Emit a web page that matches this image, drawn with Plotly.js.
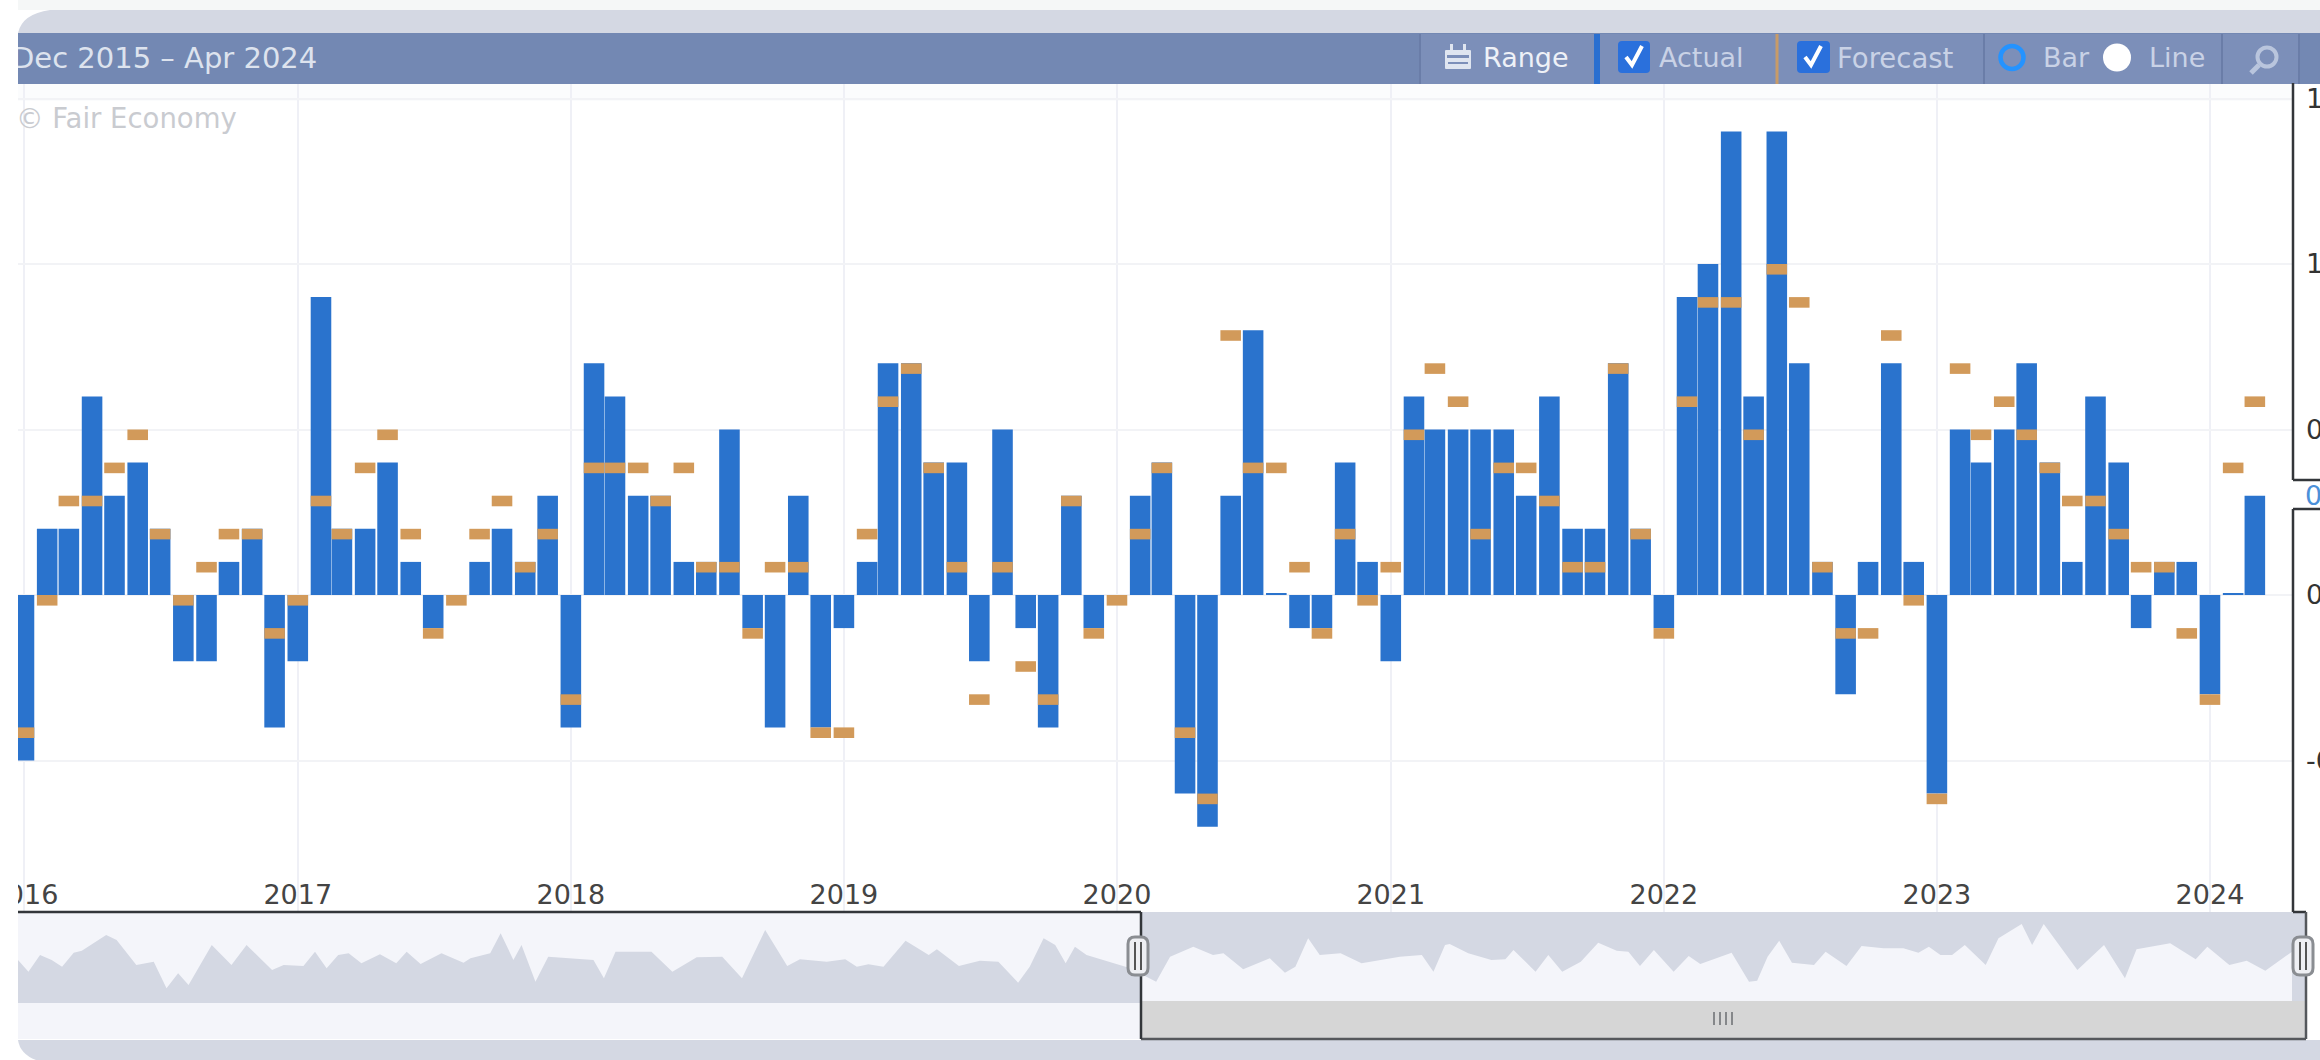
<!DOCTYPE html>
<html>
<head>
<meta charset="utf-8">
<script src="https://cdn.plot.ly/plotly-3.0.1.min.js"></script>
<style>
html,body{margin:0;padding:0;background:#fff;overflow:hidden}
#chart{position:absolute;left:0;top:0;width:2320px;height:1060px}
#edge{position:absolute;left:0;top:0;width:18px;height:1060px;background:#fff;z-index:5}
</style>
</head>
<body>
<div id="chart"></div>
<div id="edge"></div>
<script>
// Monthly values, first bar = start month
const startYear = 2016;
const actual = [
 -0.5,0.2,0.2,0.6,0.3,0.4,0.2,-0.2,-0.2,0.1,0.2,-0.4,
 -0.2,0.9,0.2,0.2,0.4,0.1,-0.1,0,0.1,0.2,0.1,0.3,
 -0.4,0.7,0.6,0.3,0.3,0.1,0.1,0.5,-0.1,-0.4,0.3,-0.4,
 -0.1,0.1,0.7,0.7,0.4,0.4,-0.2,0.5,-0.1,-0.4,0.3,-0.1,
 0,0.3,0.4,-0.6,-0.7,0.3,0.8,0.005,-0.1,-0.1,0.4,0.1,
 -0.2,0.6,0.5,0.5,0.5,0.5,0.3,0.6,0.2,0.2,0.7,0.2,
 -0.1,0.9,1.0,1.4,0.6,1.4,0.7,0.1,-0.3,0.1,0.7,0.1,
 -0.6,0.5,0.4,0.5,0.7,0.4,0.1,0.6,0.4,-0.1,0.1,0.1,
 -0.3,0.005,0.3];
const forecast = [
 -0.4,0,0.3,0.3,0.4,0.5,0.2,0,0.1,0.2,0.2,-0.1,
 0,0.3,0.2,0.4,0.5,0.2,-0.1,0,0.2,0.3,0.1,0.2,
 -0.3,0.4,0.4,0.4,0.3,0.4,0.1,0.1,-0.1,0.1,0.1,-0.4,
 -0.4,0.2,0.6,0.7,0.4,0.1,-0.3,0.1,-0.2,-0.3,0.3,-0.1,
 0,0.2,0.4,-0.4,-0.6,0.8,0.4,0.4,0.1,-0.1,0.2,0,
 0.1,0.5,0.7,0.6,0.2,0.4,0.4,0.3,0.1,0.1,0.7,0.2,
 -0.1,0.6,0.9,0.9,0.5,1.0,0.9,0.1,-0.1,-0.1,0.8,0,
 -0.6,0.7,0.5,0.6,0.5,0.4,0.3,0.3,0.2,0.1,0.1,-0.1,
 -0.3,0.4,0.6];
const yearTicks = [2016,2017,2018,2019,2020,2021,2022,2023,2024];
const yTickVals = [-0.5,0,0.5,1,1.5];
const yTickText = ['-0.5','0.0','0.5','1.0','1.5'];

// Navigator overview (month position, level)
const navMonth = [0,0.9,1.9,2.9,3.8,4.8,5.5,7.6,8.5,10.2,11.7,12.8,13.8,14.7,16.7,18.4,19.7,20.7,21.9,22.9,24.6,25.6,26.6,27.6,28.5,29.6,31.2,32.6,33.5,34.7,36.5,38.4,39,40.7,41.6,42.7,43.4,44.6,45.7,49.6,50.5,51.5,54.6,56.4,58.5,60.7,62.4,64.4,66.3,67.4,69.7,71.3,72.3,73.3,74.6,76.5,78.5,79.2,81.1,82.9,84.5,86.2,87.2,88.4,89.4,90.3,91.1,92.1,95.6,96.8,98.1,99.3,101.3,103,103.9,105.6,107.9,109.2,110.1,111.2,112.2,114,115.8,119.1,121,122,123,123.4,125,127,128.2,128.9,130.8,131.9,133.1,134.7,136.2,137.8,138.8,139.8,141,142.7,144,145,147.7,149.2,149.9,150.8,151.8,152.9,154.8,155.8,157.6,158.9,160.8,162.5,163.8,164.7,165.7,166.7,167.8,169.6,170.7,172.7,173.6,174.6,177.5,179.8,181.6,182.6,185.5,187.7,188.7,190.6,192.1,193.7,196];
const navLevel = [42,30.3,47,42,35.3,49.3,51.3,67,62,37,40.3,13.7,28.7,17,57,37,57,45.3,32,37,36,50.3,33.7,47,48.7,38.7,47.7,38.7,50.3,38,48.7,39.3,43.7,48.7,68.7,42,57,20.3,45.3,42,23.7,50.3,50.3,30.3,44.7,45.3,23.7,72,36,42.7,40.3,42.7,35.3,37.7,35.3,61.3,47,52.7,36,41.3,40.3,19.3,35.3,63.7,57,38.7,55.3,47,34.7,28,20.3,45.3,55.3,47,48.7,32.7,43.7,29.3,35.3,63.7,47,48.7,38.7,45.3,47,30.3,57,58,48.7,42,42.7,52,30.3,47,30.3,40.3,59.3,51.3,50.3,36,52,30.3,46,38,49.3,20.3,21.3,45.3,61.3,39.3,37,50.3,36,56,53.7,53.7,49.3,55.3,47,47,57,37,63.7,78,57,78,32,57,23.7,52.7,58.7,42.7,55.3,37,41.3,31.3,50.3];
const navSplitMonth = 96.8;

const W=2320,H=1060;
const px=x=>x/W, py=y=>1-y/H;
const PLOT={l:18,r:2293,t:84,b:912,zero:595,unit:331};

const dates = actual.map((_,i)=>{
  const y=startYear+Math.floor(i/12), m=i%12+1;
  return y+'-'+String(m).padStart(2,'0')+'-01';
});
const barMs = 27.5*86400000;
const markerThickness = 0.032;

const splitIdx = navMonth.indexOf(navSplitMonth);

const traces = [
 {type:'bar',x:dates,y:actual,width:barMs,marker:{color:'#2a73cd',line:{width:0}},name:'Actual',hoverinfo:'x+y'},
 {type:'bar',x:dates,y:forecast.map(()=>-markerThickness),base:forecast,width:barMs,marker:{color:'#d29a5a',line:{width:0}},name:'Forecast',customdata:forecast,hovertemplate:'%{customdata}<extra>Forecast</extra>'},
 {type:'scatter',mode:'lines',x:navMonth.slice(0,splitIdx+1),y:navLevel.slice(0,splitIdx+1),xaxis:'x2',yaxis:'y2',fill:'tozeroy',fillcolor:'#d4d8e3',line:{width:0,color:'#d4d8e3'},hoverinfo:'skip'},
 {type:'scatter',mode:'lines',x:navMonth.slice(splitIdx),y:navLevel.slice(splitIdx),xaxis:'x2',yaxis:'y2',fill:'tozeroy',fillcolor:'#f4f5fa',line:{width:0,color:'#f4f5fa'},hoverinfo:'skip'}
];

function rect(x0,y0,x1,y1,color,layer){
  return {type:'rect',xref:'paper',yref:'paper',x0:px(x0),x1:px(x1),y0:py(y1),y1:py(y0),fillcolor:color,line:{width:0},layer:layer||'above'};
}
function seg(x0,y0,x1,y1,color,w,layer){
  return {type:'line',xref:'paper',yref:'paper',x0:px(x0),x1:px(x1),y0:py(y0),y1:py(y1),line:{color:color,width:w},layer:layer||'above'};
}
function P(x,y){return px(x)+','+py(y);}
function path(d,fill,lineColor,w){
  return {type:'path',xref:'paper',yref:'paper',path:d,fillcolor:fill||'rgba(0,0,0,0)',line:{color:lineColor||'rgba(0,0,0,0)',width:w||0},layer:'above'};
}
function circle(cx,cy,r,fill,stroke,w){
  return {type:'circle',xref:'paper',yref:'paper',x0:px(cx-r),x1:px(cx+r),y0:py(cy+r),y1:py(cy-r),fillcolor:fill,line:{color:stroke||fill,width:w||0},layer:'above'};
}
function rounded(x0,y0,x1,y1,r,fill,stroke,w){
  const d='M'+P(x0+r,y0)+' L'+P(x1-r,y0)+' Q'+P(x1,y0)+' '+P(x1,y0+r)+' L'+P(x1,y1-r)+' Q'+P(x1,y1)+' '+P(x1-r,y1)+' L'+P(x0+r,y1)+' Q'+P(x0,y1)+' '+P(x0,y1-r)+' L'+P(x0,y0+r)+' Q'+P(x0,y0)+' '+P(x0+r,y0)+' Z';
  return path(d,fill,stroke,w);
}
function handle(cx){
  return [rounded(cx-10,937,cx+10,975,7,'#eeeff3','#8a8d92',3),
          seg(cx-3,942,cx-3,970,'#555',2),seg(cx+3,942,cx+3,970,'#555',2)];
}
function check(x,y){
  return path('M'+P(x-8,y)+' L'+P(x-2,y+8)+' L'+P(x+8,y-11),null,'#ffffff',4);
}
const FRAME='#33363a', HEAD='#7388b3', BTN='#7c8fb9', DIV='#6a7da8', BAND='#d4d8e3';

const shapes = [
 // plot top tint
 rect(18,84,2293,101,'#fbfcfd','below'),
 // navigator backgrounds
 rect(18,912,1141,1039,'#f4f5fa','below'),
 rect(18,1002,1141,1003,BAND,'below'),
 rect(1141,912,2307,1002,BAND,'below'),
 rect(1141,1001,2307,1039,'#d6d6d6'),
 // outer container bands
 rect(18,0,2320,10,'#f5f7f7'),
 path('M'+P(18,33)+' Q'+P(22,14)+' '+P(50,10)+' L'+P(2320,10)+' L'+P(2320,33)+' Z',BAND),
 rect(18,33,2320,84,HEAD),
 path('M'+P(18,1040)+' Q'+P(20,1054)+' '+P(36,1060)+' L'+P(2320,1060)+' L'+P(2320,1040)+' Z',BAND),
 // toolbar
 rect(1420,34,2299,84,BTN),
 seg(1420,34,1420,84,DIV,2),
 rect(1594,34,1600,84,'#2a6fd0'),
 seg(1777,34,1777,84,'#c89b68',3),
 seg(1984,34,1984,84,DIV,2),
 seg(2222,34,2222,84,DIV,2),
 seg(2299,34,2299,84,DIV,2),
 // calendar icon
 rounded(1445,50,1471,69,1,'#dfe5f0'),
 rect(1447,55,1469,58,BTN),
 rect(1450,44,1453,52,'#dfe5f0'),
 rect(1463,44,1466,52,'#dfe5f0'),
 rect(1448,62,1468,64,BTN),
 // checkboxes
 rounded(1618,41,1650,73,4,'#2a70dc'),
 check(1634,57),
 rounded(1797,41,1830,73,4,'#2a70dc'),
 check(1813,57),
 // radios
 circle(2012,57.5,11.5,BTN,'#2493ff',4.5),
 circle(2117,57.5,14,'#ffffff'),
 // magnifier
 circle(2267,57,9.5,'rgba(0,0,0,0)','#b9c5dd',4),
 seg(2259,65,2251,73,'#b9c5dd',5),
 // frames
 seg(2293,83,2293,480,FRAME,2.5),
 seg(2293,480,2320,480,FRAME,2.5),
 seg(2293,509,2320,509,FRAME,2.5),
 seg(2293,509,2293,912,FRAME,2.5),
 seg(2293,912,2306,912,FRAME,2.5),
 seg(2306,912,2306,1039,'#55585c',2.5),
 seg(1141,1039,2306,1039,'#55585c',2.5),
 seg(1141,912,1141,1039,FRAME,2.5),
 seg(18,912,1141,912,FRAME,2.5),
 // scroll grip
 seg(1714,1012,1714,1025,'#85878a',2),
 seg(1720,1012,1720,1025,'#85878a',2),
 seg(1726,1012,1726,1025,'#85878a',2),
 seg(1732,1012,1732,1025,'#85878a',2),
 ...handle(1138),
 ...handle(2303)
];

const FONT='"DejaVu Sans", sans-serif';
function label(text,x,y,color,size,anchor){
  return {xref:'paper',yref:'paper',x:px(x),y:py(y),text:text,showarrow:false,xanchor:anchor||'left',yanchor:'middle',borderpad:0,borderwidth:0,font:{family:FONT,size:size||27,color:color}};
}
const annotations = [
 label('Dec 2015 – Apr 2024',12,58,'#dde3ee',29),
 label('© Fair Economy',16,118,'#c9cbd0',27.5),
 label('Range',1483,58,'#eef1f7',27),
 label('Actual',1659,58,'#c9d2e6',27),
 label('Forecast',1837,58,'#c9d2e6',27.5),
 label('Bar',2043,58,'#c9d2e6',27),
 label('Line',2149,58,'#c9d2e6',27),
 {xref:'paper',yref:'y',x:px(2304),y:actual[actual.length-1],text:'0.3',showarrow:false,xanchor:'left',yanchor:'middle',borderpad:0,font:{family:FONT,size:27,color:'#4b90d9'}}
];

const layout = {
 width:W,height:H,margin:{l:0,r:0,t:0,b:0,pad:0},
 paper_bgcolor:'#ffffff',plot_bgcolor:'rgba(0,0,0,0)',
 showlegend:false,barmode:'overlay',hovermode:'closest',
 font:{family:FONT,size:27,color:'#444'},
 xaxis:{type:'date',domain:[px(PLOT.l),px(PLOT.r)],range:['2015-12-24','2024-04-21'],
   tickmode:'array',tickvals:yearTicks.map(y=>y+'-01-01'),ticktext:yearTicks.map(String),
   ticks:'',ticklen:0,ticklabelposition:'inside',ticklabeloverflow:'allow',
   tickfont:{family:FONT,size:27,color:'#444'},showgrid:true,gridcolor:'#eff0f6',gridwidth:1.5,
   zeroline:false,showline:false,anchor:'y'},
 yaxis:{domain:[py(PLOT.b),py(PLOT.t)],range:[-(PLOT.b-PLOT.zero)/PLOT.unit,(PLOT.zero-PLOT.t)/PLOT.unit],
   side:'right',tickmode:'array',tickvals:yTickVals,ticktext:yTickText,ticks:'',ticklen:0,
   ticklabelstandoff:12,tickfont:{family:FONT,size:27,color:'#333'},
   showgrid:true,gridcolor:'#f2f3f6',gridwidth:2,zeroline:false,showline:false,anchor:'x'},
 xaxis2:{domain:[px(18),px(2292)],range:[0,196],visible:false,anchor:'y2',fixedrange:true},
 yaxis2:{domain:[py(1002),py(912)],range:[0,90],visible:false,anchor:'x2',fixedrange:true},
 shapes:shapes,annotations:annotations
};
Plotly.newPlot('chart',traces,layout,{displayModeBar:false,responsive:false});
</script>
</body>
</html>
